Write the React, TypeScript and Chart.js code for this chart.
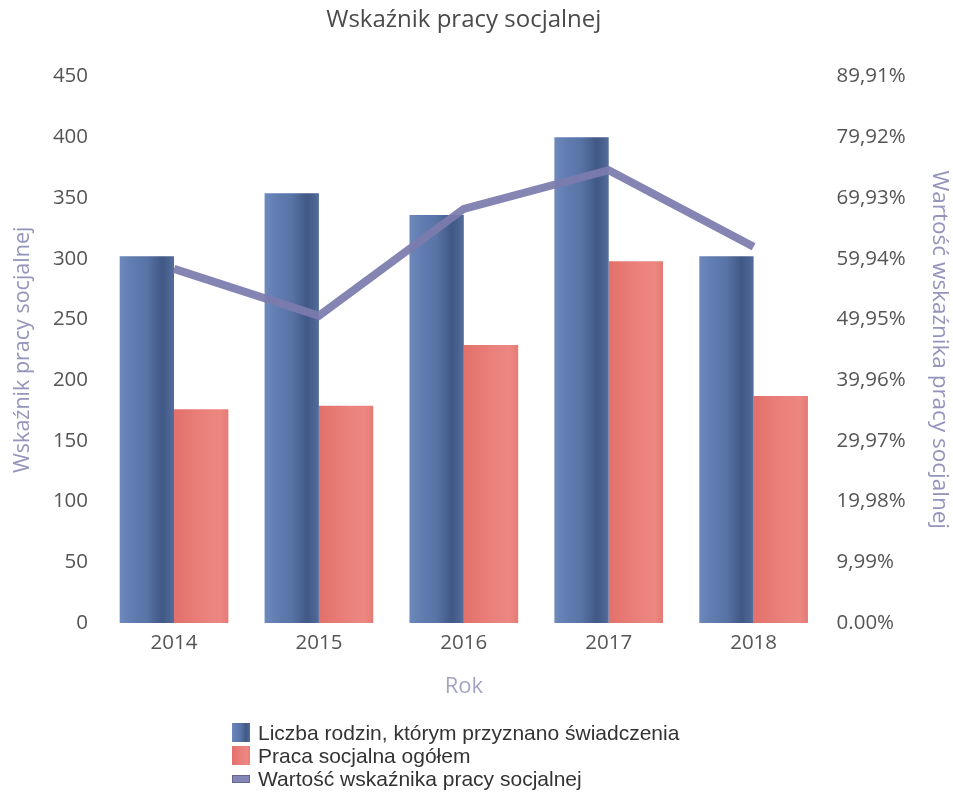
import React, { useEffect, useRef } from "react";
import { Chart, registerables } from "chart.js";

Chart.register(...registerables);

const years = ["2014", "2015", "2016", "2017", "2018"];
const familiesCount = [302, 354, 336, 400, 302];
const socialWorkTotal = [176, 179, 229, 298, 187];
const indicatorPct = [58.28, 50.56, 68.15, 74.5, 61.92];

const leftTicks = [0, 50, 100, 150, 200, 250, 300, 350, 400, 450];
const rightTickValues = [0, 9.99, 19.98, 29.97, 39.96, 49.95, 59.94, 69.93, 79.92, 89.91];
const rightTickLabels = ["0.00%", "9,99%", "19,98%", "29,97%", "39,96%", "49,95%", "59,94%", "69,93%", "79,92%", "89,91%"];

const titleText = "Wskaźnik pracy socjalnej";
const leftAxisTitle = "Wskaźnik pracy socjalnej";
const rightAxisTitle = "Wartość wskaźnika pracy socjalnej";
const xAxisTitle = "Rok";
const seriesNames = [
  "Liczba rodzin, którym przyznano świadczenia",
  "Praca socjalna ogółem",
  "Wartość wskaźnika pracy socjalnej",
];

const BLUE_STOPS: [number, string][] = [
  [0, "rgb(110,138,188)"],
  [0.15, "rgb(100,128,180)"],
  [0.5, "rgb(88,115,165)"],
  [0.78, "rgb(64,88,134)"],
  [0.9, "rgb(74,98,144)"],
  [1, "rgb(84,110,157)"],
];
const RED_STOPS: [number, string][] = [
  [0, "rgb(227,112,106)"],
  [0.5, "rgb(234,128,122)"],
  [0.85, "rgb(237,135,129)"],
  [1, "rgb(230,122,116)"],
];
const LINE_COLOR = "rgba(124,124,174,0.93)";

const cssGradient = (stops: [number, string][]) =>
  `linear-gradient(to right, ${stops.map(([o, c]) => `${c} ${o * 100}%`).join(", ")})`;

const gradientPlugin = {
  id: "barGradient",
  beforeDatasetsDraw(chart: any) {
    const ctx = chart.ctx;
    chart.data.datasets.forEach((ds: any, i: number) => {
      const stops = ds._stops as [number, string][];
      if (!stops) return;
      const meta = chart.getDatasetMeta(i);
      meta.data.forEach((el: any) => {
        const w = el.width;
        const g = ctx.createLinearGradient(el.x - w / 2, 0, el.x + w / 2, 0);
        stops.forEach(([o, c]) => g.addColorStop(o, c));
        el.options.backgroundColor = g;
      });
    });
  },
};

export default function App() {
  const ref = useRef<HTMLCanvasElement | null>(null);

  useEffect(() => {
    if (!ref.current) return;
    const font = "'Open Sans', 'Noto Sans', sans-serif";
    const chart = new Chart(ref.current, {
      type: "bar",
      data: {
        labels: years,
        datasets: [
          {
            type: "line",
            label: seriesNames[2],
            data: indicatorPct,
            yAxisID: "y1",
            borderColor: LINE_COLOR,
            backgroundColor: LINE_COLOR,
            borderWidth: 8,
            pointRadius: 0,
            tension: 0,
            order: 0,
          } as any,
          {
            type: "bar",
            label: seriesNames[0],
            data: familiesCount,
            yAxisID: "y",
            backgroundColor: () => "rgb(88,115,165)",
            borderWidth: 0,
            categoryPercentage: 0.75,
            barPercentage: 1,
            order: 1,
            _stops: BLUE_STOPS,
          } as any,
          {
            type: "bar",
            label: seriesNames[1],
            data: socialWorkTotal,
            yAxisID: "y",
            backgroundColor: () => "rgb(232,126,120)",
            borderWidth: 0,
            categoryPercentage: 0.75,
            barPercentage: 1,
            order: 1,
            _stops: RED_STOPS,
          } as any,
        ],
      },
      options: {
        animation: false,
        responsive: true,
        maintainAspectRatio: false,
        layout: { padding: { left: 4, right: 0, top: 0, bottom: 92.8 } },
        plugins: {
          legend: { display: false },
          tooltip: { enabled: false },
          title: {
            display: true,
            text: titleText,
            fullSize: false,
            color: "#4a4a4a",
            font: { family: font, size: 24, weight: "normal" },
            padding: { top: 6, bottom: 41.8 },
          },
        },
        scales: {
          x: {
            grid: { display: false, drawTicks: false },
            border: { display: false },
            ticks: { color: "#555", font: { family: font, size: 20.5 }, padding: 7.7 },
            title: {
              display: true,
              text: xAxisTitle,
              color: "#a4a4c4",
              font: { family: font, size: 22 },
              padding: { top: 10.8, bottom: 0 },
            },
          },
          y: {
            position: "left",
            min: 0,
            max: 450,
            grid: { display: false, drawTicks: false },
            border: { display: false },
            afterBuildTicks: (axis: any) => {
              axis.ticks = leftTicks.map((v) => ({ value: v }));
            },
            ticks: { color: "#555", font: { family: font, size: 20.5 }, padding: 13.5 },
            title: {
              display: true,
              text: leftAxisTitle,
              color: "#9494bc",
              font: { family: font, size: 21.5 },
              padding: { top: 6, bottom: 3.6 },
            },
          },
          y1: {
            position: "right",
            min: 0,
            max: 89.91,
            grid: { display: false, drawTicks: false },
            border: { display: false },
            afterBuildTicks: (axis: any) => {
              axis.ticks = rightTickValues.map((v) => ({ value: v }));
            },
            ticks: {
              color: "#555",
              font: { family: font, size: 20.5 },
              padding: 10.5,
              callback: (_v: any, i: number) => rightTickLabels[i],
            },
            title: {
              display: true,
              text: rightAxisTitle,
              color: "#9494bc",
              font: { family: font, size: 22.5 },
              padding: { top: 0, bottom: 9.8 },
            },
          },
        },
      },
      plugins: [gradientPlugin],
    } as any);
    return () => chart.destroy();
  }, []);

  const legendFont = "'Liberation Sans', Arial, sans-serif";
  const rowStyle: React.CSSProperties = {
    display: "flex",
    alignItems: "center",
    height: 23,
    fontFamily: legendFont,
    fontSize: 21,
    color: "#333",
    whiteSpace: "nowrap",
  };
  const swatch = (bg: string, h: number): React.CSSProperties => ({
    display: "inline-block",
    width: 18,
    height: h,
    background: bg,
    marginRight: 8,
    boxSizing: "border-box",
  });

  return (
    <div style={{ position: "fixed", left: 0, top: 0, width: 953, height: 793, background: "#fff" }}>
      <canvas ref={ref} />
      <div style={{ position: "absolute", left: 232, top: 721 }}>
        <div style={rowStyle}>
          <span style={swatch(cssGradient(BLUE_STOPS), 19)} />
          {seriesNames[0]}
        </div>
        <div style={rowStyle}>
          <span style={swatch(cssGradient(RED_STOPS), 19)} />
          {seriesNames[1]}
        </div>
        <div style={rowStyle}>
          <span style={{ ...swatch(LINE_COLOR, 8), border: "1px solid rgb(100,100,150)" }} />
          {seriesNames[2]}
        </div>
      </div>
    </div>
  );
}
